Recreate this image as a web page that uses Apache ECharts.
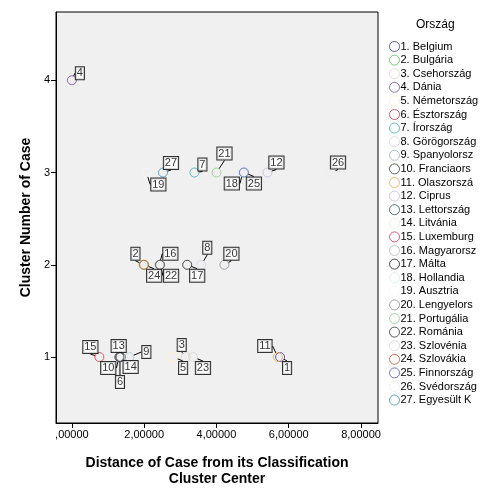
<!DOCTYPE html>
<html>
<head>
<meta charset="utf-8">
<script src="https://cdn.jsdelivr.net/npm/echarts@6/dist/echarts.min.js"></script>
<style>html,body{margin:0;padding:0;background:#fff}#c{width:504px;height:504px}</style>
</head>
<body>
<div id="c"></div>
<script>
const countries = ['1. Belgium','2. Bulgária','3. Csehország','4. Dánia','5. Németország','6. Észtország','7. Írország','8. Görögország','9. Spanyolorsz','10. Franciaors','11. Olaszorszá','12. Ciprus','13. Lettország','14. Litvánia','15. Luxemburg','16. Magyarorsz','17. Málta','18. Hollandia','19. Ausztria','20. Lengyelors','21. Portugália','22. Románia','23. Szlovénia','24. Szlovákia','25. Finnország','26. Svédország','27. Egyesült K'];
const caseNumbers = ['1','2','3','4','5','6','7','8','9','10','11','12','13','14','15','16','17','18','19','20','21','22','23','24','25','26','27'];
const clusterNumber = [1,2,1,4,1,1,3,2,1,1,1,3,1,1,1,2,2,3,3,2,3,2,1,2,3,3,3];
const distance = [5.76,1.98,3.15,0.0,2.80,1.33,3.39,3.58,1.59,1.31,5.70,5.41,1.35,1.57,0.76,2.42,3.19,4.73,2.06,4.22,4.00,2.44,3.35,2.00,4.76,7.17,2.52];
const xTicks = [0,2,4,6,8];
const yTicks = [1,2,3,4];

const palette = ['#3b3b9e','#5cb85f','#ddd8c6','#7b4f90','#fbf1c4','#b5364f','#3fb0b4','#d8d2e2','#9cb0c8','#2e4a2e','#efa84c','#c9b9e0','#2f4a6a','#dcefe0','#d2314c','#b5b5b5','#1e1e1e','#d6ebe7','#f6f6f6','#8c8c9c','#8fce8f','#333333','#d5d5e5','#d14f22','#4f4fbf','#eeeeee','#3f8fc0'];
const labelOffsets = [[7,11],[-8,-11],[-4,-12],[8,-7],[10,11],[0,25],[8,-8],[6,-17],[17,-5],[-11,11],[-13,-11],[9,-10],[-2,-11],[2,10],[-9,-10],[11,-11],[10,11],[-11,11],[12,12],[7,-11],[8,-19],[11,11],[10,11],[10,11],[10,11],[7,-10],[8,-9.5]];

function fmt(v){ let s = v.toFixed(5).replace('.', ','); if (s.startsWith('0,')) s = s.slice(1); return s; }

const series = countries.map((name, i) => ({
  name: name,
  type: 'scatter',
  symbol: 'circle',
  symbolSize: 9,
  itemStyle: { color: 'rgba(0,0,0,0)', borderColor: palette[i], borderWidth: 1 },
  data: [[distance[i], clusterNumber[i]]],
  label: {
    show: true,
    position: 'inside',
    formatter: caseNumbers[i],
    color: '#000',
    fontSize: 11,
    fontFamily: 'Liberation Sans, Arial, sans-serif',
    backgroundColor: '#fff',
    borderColor: '#000',
    borderWidth: 1,
    padding: [1, 1, 0, 1],
    lineHeight: 11
  },
  labelLine: { show: true, lineStyle: { color: '#000', width: 1 } },
  labelLayout: function () { return { dx: labelOffsets[i][0], dy: labelOffsets[i][1] }; },
  emphasis: { disabled: true }
}));

const chart = echarts.init(document.getElementById('c'), null, { renderer: 'canvas' });
chart.setOption({
  animation: false,
  textStyle: { fontFamily: 'Liberation Sans, Arial, sans-serif' },
  title: { text: 'Ország', left: 411, top: 14, textStyle: { fontSize: 12, fontWeight: 'normal', color: '#000', fontFamily: 'Liberation Sans, Arial, sans-serif' } },
  legend: {
    orient: 'vertical', left: 384, top: 36,
    itemWidth: 10, itemHeight: 10, itemGap: 2.6,
    itemStyle: { borderWidth: 1 },
    textStyle: { fontSize: 11, color: '#000', padding: [0,0,0,-4] },
    data: countries
  },
  grid: { left: 56, top: 12, right: 126, bottom: 81, show: true, backgroundColor: '#f0f0f0', borderColor: '#000', borderWidth: 1 },
  xAxis: {
    type: 'value', min: -0.44, max: 8.47,
    axisLine: { onZero: false, lineStyle: { color: '#000' } },
    axisTick: { customValues: xTicks, length: 5, lineStyle: { color: '#000' } },
    axisLabel: { customValues: xTicks, formatter: fmt, color: '#000', fontSize: 11, margin: 6 },
    splitLine: { show: false },
    name: 'Distance of Case from its Classification\nCluster Center',
    nameLocation: 'middle', nameGap: 32,
    nameTextStyle: { fontSize: 14, fontWeight: 'bold', color: '#000', lineHeight: 16 }
  },
  yAxis: {
    type: 'value', min: 0.285, max: 4.74,
    axisLine: { onZero: false, lineStyle: { color: '#000' } },
    axisTick: { customValues: yTicks, length: 5, lineStyle: { color: '#000' } },
    axisLabel: { customValues: yTicks, color: '#000', fontSize: 11, margin: 6 },
    splitLine: { show: false },
    name: 'Cluster Number of Case',
    nameLocation: 'middle', nameGap: 15,
    nameTextStyle: { fontSize: 14, fontWeight: 'bold', color: '#000' }
  },
  series: series
});
</script>
</body>
</html>
